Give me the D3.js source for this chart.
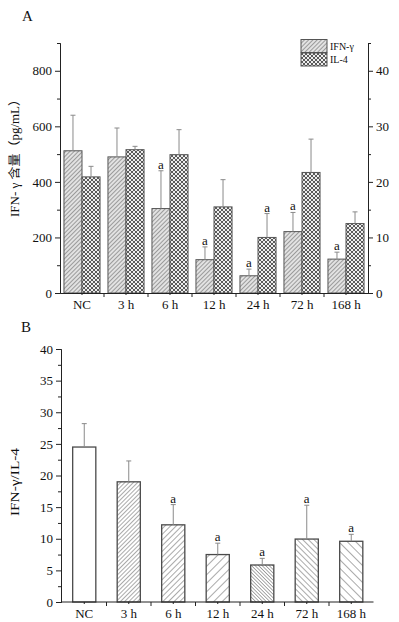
<!DOCTYPE html>
<meta charset="utf-8">
<script src="https://d3js.org/d3.v7.min.js"></script>
<style>
  body { margin: 0; background: #fff; }
  text { font-family: "Liberation Serif", "Times New Roman", "Noto Sans CJK SC", serif; fill: #111; }
</style>
<div id="my_dataviz"></div>
<script>
    // categories and values
    var categories = ["NC", "3 h", "6 h", "12 h", "24 h", "72 h", "168 h"];
    var ifnMean = [512, 490, 304, 120, 62, 221, 122];
    var ifnSd = [128, 104, 136, 46, 24, 69, 25];
    var ifnSig = [false, false, true, true, true, true, true];
    var il4Mean = [20.9, 25.8, 24.9, 15.5, 10.0, 21.7, 12.5];
    var il4Sd = [1.9, 0.6, 4.5, 4.9, 4.3, 6.0, 2.1];
    var il4Sig = [false, false, false, false, true, false, false];
    var ratioMean = [24.5, 19.0, 12.2, 7.5, 5.85, 9.95, 9.6];
    var ratioSd = [3.7, 3.3, 3.2, 1.8, 1.05, 5.35, 1.1];
    var ratioSig = [false, false, true, true, true, true, true];

    var leftTicks = [0, 200, 400, 600, 800];
    var rightTicks = [0, 10, 20, 30, 40];
    var ratioTicks = [0, 5, 10, 15, 20, 25, 30, 35, 40];

    var svg = d3.select("#my_dataviz")
        .append("svg")
        .attr("width", 399)
        .attr("height", 622);

    var defs = svg.append("defs");

    // hatch pattern: lines every `gap` px, rotated
    function hatch(id, gap, angle, bg, width) {
        var p = defs.append("pattern")
            .attr("id", id)
            .attr("patternUnits", "userSpaceOnUse")
            .attr("width", gap).attr("height", gap)
            .attr("patternTransform", "rotate(" + angle + ")");
        p.append("rect").attr("width", gap).attr("height", gap).attr("fill", bg);
        p.append("line")
            .attr("x1", 0).attr("y1", 0).attr("x2", 0).attr("y2", gap)
            .attr("stroke", "#555").attr("stroke-width", width);
    }
    hatch("ifnA", 3, 45, "#e2e2e2", 1);
    var ck = defs.append("pattern")
        .attr("id", "il4A")
        .attr("patternUnits", "userSpaceOnUse")
        .attr("width", 4).attr("height", 4);
    ck.append("rect").attr("width", 4).attr("height", 4).attr("fill", "#eee");
    ck.append("path").attr("d", "M0,0L4,4M4,0L0,4")
        .attr("stroke", "#4a4a4a").attr("stroke-width", 0.9);

    var ratioFill = ["#fff", "url(#b1)", "url(#b2)", "url(#b3)", "url(#b4)", "url(#b5)", "url(#b6)"];
    hatch("b1", 3, 45, "#fff", 1);
    hatch("b2", 4, 45, "#fff", 1);
    hatch("b3", 6, 45, "#fff", 1);
    hatch("b4", 2.5, -45, "#fff", 1);
    hatch("b5", 4, -45, "#fff", 1);
    hatch("b6", 6, -45, "#fff", 1);

    function errorBar(g, cx, yTop, yVal, label) {
        g.append("line")
            .attr("x1", cx).attr("x2", cx)
            .attr("y1", yVal).attr("y2", yTop)
            .attr("stroke", "#8a8a8a").attr("stroke-width", 1);
        g.append("line")
            .attr("x1", cx - 2.5).attr("x2", cx + 2.5)
            .attr("y1", yTop).attr("y2", yTop)
            .attr("stroke", "#8a8a8a").attr("stroke-width", 1);
        if (label) {
            g.append("text")
                .attr("x", cx).attr("y", yTop - 2)
                .attr("text-anchor", "middle")
                .style("font-size", "13px")
                .text("a");
        }
    }

    // ---------- Panel A ----------
    var xA = d3.scaleBand()
        .domain(categories)
        .range([60, 368])
        .paddingInner(0.18)
        .paddingOuter(0.09);
    var yL = d3.scaleLinear().domain([0, 900]).range([293, 43]);
    var yR = d3.scaleLinear().domain([0, 45]).range([293, 43]);
    var bw = xA.bandwidth() / 2;

    var gA = svg.append("g");
    categories.forEach(function (c, i) {
        var x0 = xA(c);
        gA.append("rect")
            .attr("x", x0).attr("width", bw)
            .attr("y", yL(ifnMean[i])).attr("height", yL(0) - yL(ifnMean[i]))
            .attr("fill", "url(#ifnA)").attr("stroke", "#555");
        gA.append("rect")
            .attr("x", x0 + bw).attr("width", bw)
            .attr("y", yR(il4Mean[i])).attr("height", yR(0) - yR(il4Mean[i]))
            .attr("fill", "url(#il4A)").attr("stroke", "#555");
        errorBar(gA, x0 + bw / 2, yL(ifnMean[i] + ifnSd[i]), yL(ifnMean[i]), ifnSig[i]);
        errorBar(gA, x0 + bw * 1.5, yR(il4Mean[i] + il4Sd[i]), yR(il4Mean[i]), il4Sig[i]);
    });

    function styleAxis(g) {
        g.selectAll("path, line").attr("stroke", "#222");
        g.selectAll("text").style("font-size", "13px")
            .style("font-family", "'Liberation Serif', serif").attr("fill", "#111");
    }

    svg.append("g")
        .attr("transform", "translate(60,0)")
        .call(d3.axisLeft(yL).tickValues(leftTicks).tickSize(5).tickSizeOuter(0).tickPadding(3))
        .call(styleAxis);
    svg.append("g")
        .attr("transform", "translate(60,0)")
        .call(d3.axisLeft(yL).tickValues([100, 300, 500, 700, 900]).tickSize(3).tickFormat(""))
        .call(styleAxis);
    svg.append("g")
        .attr("transform", "translate(368,0)")
        .call(d3.axisRight(yR).tickValues(rightTicks).tickSize(5).tickSizeOuter(0).tickPadding(3))
        .call(styleAxis);
    svg.append("g")
        .attr("transform", "translate(368,0)")
        .call(d3.axisRight(yR).tickValues([5, 15, 25, 35, 45]).tickSize(3).tickFormat(""))
        .call(styleAxis);

    // x axis A: labels at centers, ticks at group boundaries
    var xAxisA = svg.append("g")
        .attr("transform", "translate(0,293)")
        .call(d3.axisBottom(xA).tickSize(2).tickSizeOuter(0).tickPadding(5))
        .call(styleAxis);
    categories.slice(1).forEach(function (c) {
        var xb = xA(c) - xA.step() * xA.paddingInner() / 2;
        xAxisA.append("line").attr("x1", xb).attr("x2", xb)
            .attr("y1", 0).attr("y2", 4).attr("stroke", "#222");
    });

    svg.append("text")
        .attr("transform", "translate(19,155) rotate(-90)")
        .attr("text-anchor", "middle")
        .attr("textLength", 124)
        .attr("lengthAdjust", "spacingAndGlyphs")
        .style("font-size", "12.5px")
        .text("IFN- γ 含量（pg/mL）");

    svg.append("text")
        .attr("x", 22).attr("y", 21)
        .style("font-size", "15px")
        .text("A");

    // legend
    var legend = [["IFN-γ", "url(#ifnA)"], ["IL-4", "url(#il4A)"]];
    legend.forEach(function (d, i) {
        svg.append("rect")
            .attr("x", 301).attr("y", 39.5 + i * 13.5)
            .attr("width", 26).attr("height", 13)
            .attr("fill", d[1]).attr("stroke", "#555");
        svg.append("text")
            .attr("x", 330).attr("y", 49.5 + i * 13.5)
            .style("font-size", "10px")
            .text(d[0]);
    });

    // ---------- Panel B ----------
    var xB = d3.scaleBand()
        .domain(categories)
        .range([62, 373.5])
        .paddingInner(0.48)
        .paddingOuter(0.24);
    var yB = d3.scaleLinear().domain([0, 40]).range([602, 349]);

    var gB = svg.append("g");
    categories.forEach(function (c, i) {
        gB.append("rect")
            .attr("x", xB(c)).attr("width", xB.bandwidth())
            .attr("y", yB(ratioMean[i])).attr("height", yB(0) - yB(ratioMean[i]))
            .attr("fill", ratioFill[i]).attr("stroke", "#4a4a4a").attr("stroke-width", 1.3);
        errorBar(gB, xB(c) + xB.bandwidth() / 2, yB(ratioMean[i] + ratioSd[i]), yB(ratioMean[i]), ratioSig[i]);
    });

    svg.append("g")
        .attr("transform", "translate(61,0)")
        .call(d3.axisLeft(yB).tickValues(ratioTicks).tickSize(5).tickSizeOuter(0).tickPadding(3))
        .call(styleAxis);
    svg.append("g")
        .attr("transform", "translate(61,0)")
        .call(d3.axisLeft(yB).tickValues(d3.range(2.5, 40, 5)).tickSize(3).tickFormat(""))
        .call(styleAxis);

    var xAxisB = svg.append("g")
        .attr("transform", "translate(0,602)")
        .call(d3.axisBottom(xB).tickSize(2).tickSizeOuter(0).tickPadding(5))
        .call(styleAxis);
    xAxisB.select(".domain").attr("d", "M61,0H373.5");
    categories.slice(1).forEach(function (c) {
        var xb = xB(c) - xB.step() * xB.paddingInner() / 2;
        xAxisB.append("line").attr("x1", xb).attr("x2", xb)
            .attr("y1", 0).attr("y2", 4).attr("stroke", "#222");
    });

    svg.append("text")
        .attr("transform", "translate(19,482) rotate(-90)")
        .attr("text-anchor", "middle")
        .attr("textLength", 68)
        .attr("lengthAdjust", "spacingAndGlyphs")
        .style("font-size", "13px")
        .text("IFN-γ/IL-4");

    svg.append("text")
        .attr("x", 21).attr("y", 332)
        .style("font-size", "15px")
        .text("B");
</script>
